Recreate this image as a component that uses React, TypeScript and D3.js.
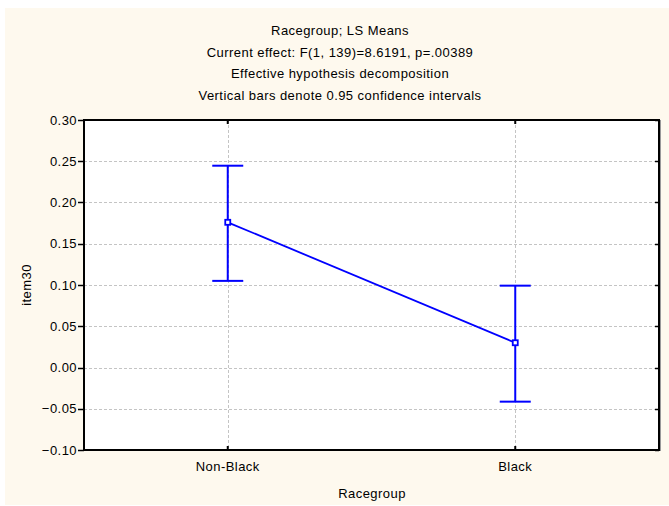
import React from "react";
import * as d3 from "d3";

const categories = ["Non-Black", "Black"];
const means = [0.176, 0.03];
const upper = [0.2446, 0.0992];
const lower = [0.105, -0.0414];
const yTicks = [-0.1, -0.05, 0, 0.05, 0.1, 0.15, 0.2, 0.25, 0.3];
const titleLines = [
  "Racegroup; LS Means",
  "Current effect: F(1, 139)=8.6191, p=.00389",
  "Effective hypothesis decomposition",
  "Vertical bars denote 0.95 confidence intervals",
];

const W = 669;
const H = 506;
const L = 84, R = 659, T = 120, B = 450;
const font = "'Liberation Sans', Arial, Helvetica, sans-serif";
const blue = "#0000FF";
const fs = 13;
const ls = 0.45;

export default function App() {
  const x = d3.scalePoint<string>().domain(categories).range([L, R]).padding(0.5);
  const y = d3.scaleLinear().domain([-0.1, 0.3]).range([B, T]);
  const line = d3
    .line<number>()
    .x((_, i) => x(categories[i])!)
    .y((d) => y(d));
  const fmt = d3.format(".2f");
  const capW = 15.5;

  return (
    <svg
      width={W}
      height={H}
      style={{ position: "fixed", left: 0, top: 0, display: "block" }}
      fontFamily={font}
      letterSpacing={ls}
    >
      <rect x={0} y={0} width={W} height={H} fill="#ffffff" />
      <rect x={5} y={8} width={W - 5} height={H - 9} fill="#FEF9EE" />
      {titleLines.map((t, i) => (
        <text key={i} x={340} y={35 + i * 21.6} textAnchor="middle" fontSize={fs} fill="#000">
          {t}
        </text>
      ))}
      <rect x={L} y={T} width={R - L} height={B - T} fill="#ffffff" />
      {/* shadow */}
      <line x1={R + 1.5} y1={T} x2={R + 1.5} y2={B + 1} stroke="#999" strokeWidth={1} />
      {/* grid */}
      {yTicks.slice(1, -1).map((t) => (
        <line
          key={t}
          x1={L}
          x2={R}
          y1={Math.round(y(t)) + 0.5}
          y2={Math.round(y(t)) + 0.5}
          stroke="#c4c4c4"
          strokeDasharray="3,2"
          strokeWidth={1}
        />
      ))}
      {categories.map((c) => (
        <line
          key={c}
          x1={Math.round(x(c)!) + 0.5}
          x2={Math.round(x(c)!) + 0.5}
          y1={T}
          y2={B}
          stroke="#c4c4c4"
          strokeDasharray="3,2"
          strokeWidth={1}
        />
      ))}
      {/* frame */}
      <rect x={L} y={T} width={R - L} height={B - T} fill="none" stroke="#000" strokeWidth={2} />
      {/* y ticks */}
      {yTicks.map((t) => (
        <g key={t}>
          <line x1={L - 6} x2={L} y1={Math.round(y(t)) + 0.5} y2={Math.round(y(t)) + 0.5} stroke="#000" strokeWidth={1.5} />
          <line x1={R - 4} x2={R} y1={Math.round(y(t)) + 0.5} y2={Math.round(y(t)) + 0.5} stroke="#000" strokeWidth={1.5} />
          <text x={77} y={y(t)} dy="0.35em" textAnchor="end" fontSize={fs} fill="#000">
            {fmt(t)}
          </text>
        </g>
      ))}
      {/* x ticks */}
      {categories.map((c) => (
        <g key={c}>
          <line x1={x(c)!} x2={x(c)!} y1={B} y2={B - 4} stroke="#000" strokeWidth={2} />
          <line x1={x(c)!} x2={x(c)!} y1={T} y2={T + 4} stroke="#000" strokeWidth={2} />
          <text x={x(c)!} y={471} textAnchor="middle" fontSize={fs} fill="#000">
            {c}
          </text>
        </g>
      ))}
      <text x={372} y={498} textAnchor="middle" fontSize={fs} fill="#000">
        Racegroup
      </text>
      <text
        transform={`translate(31,${(T + B) / 2}) rotate(-90)`}
        textAnchor="middle"
        fontSize={fs}
        fill="#000"
      >
        item30
      </text>
      {/* line */}
      <path d={line(means) || ""} fill="none" stroke={blue} strokeWidth={1.8} />
      {/* error bars */}
      {categories.map((c, i) => (
        <g key={c} stroke={blue} strokeWidth={2}>
          <line x1={x(c)!} x2={x(c)!} y1={y(upper[i])} y2={y(lower[i])} />
          <line x1={x(c)! - capW} x2={x(c)! + capW} y1={y(upper[i])} y2={y(upper[i])} />
          <line x1={x(c)! - capW} x2={x(c)! + capW} y1={y(lower[i])} y2={y(lower[i])} />
        </g>
      ))}
      {categories.map((c, i) => (
        <rect
          key={c}
          x={x(c)! - 2.5}
          y={y(means[i]) - 2.5}
          width={5}
          height={5}
          fill="#fff"
          stroke={blue}
          strokeWidth={1.8}
        />
      ))}
    </svg>
  );
}
